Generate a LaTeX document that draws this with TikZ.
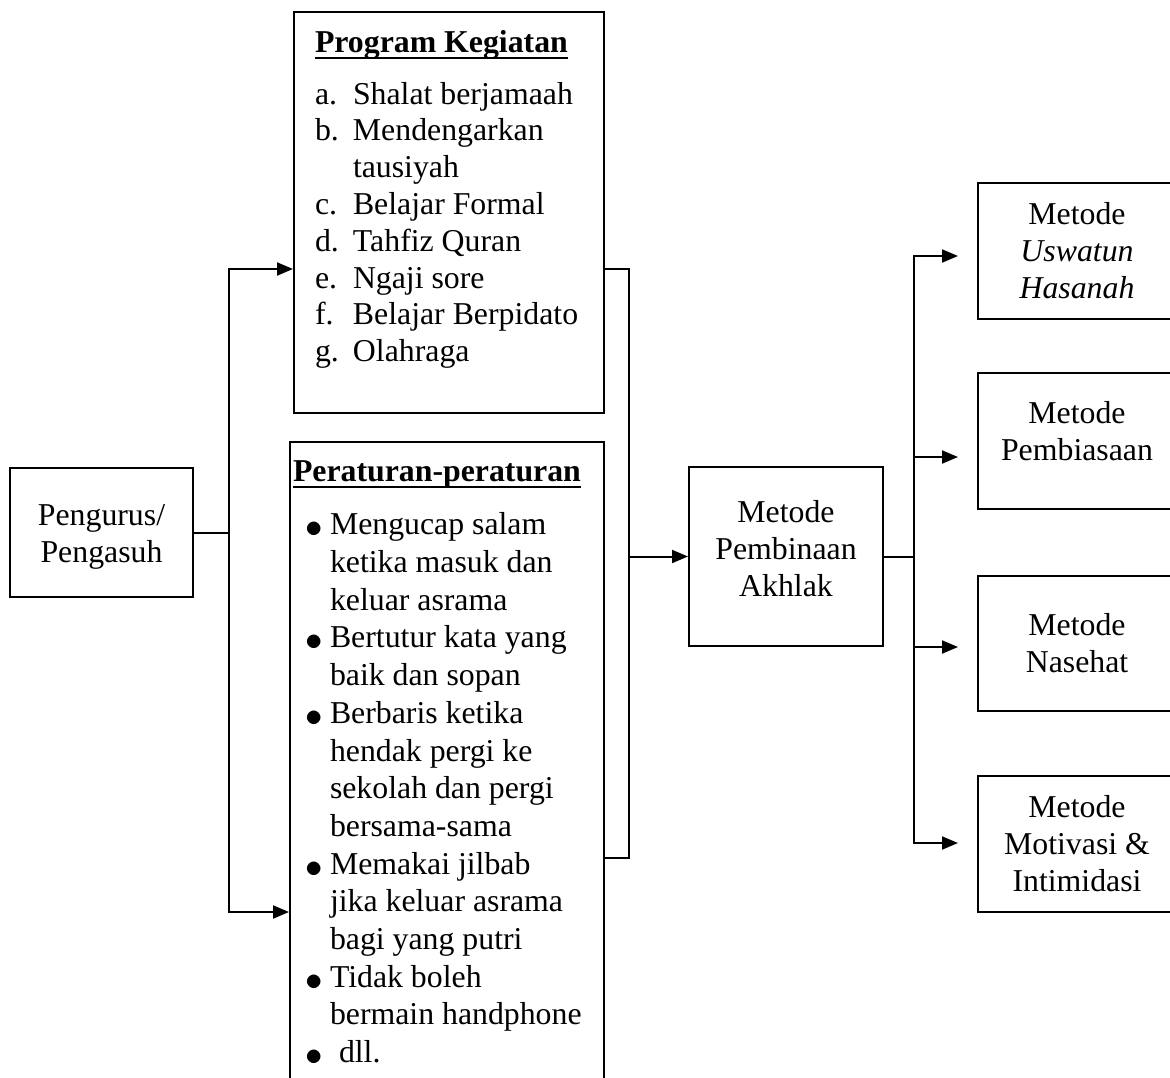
\documentclass[tikz,border=0pt]{standalone}
\usepackage{fontspec}
\setmainfont{Liberation Serif}
\usetikzlibrary{arrows.meta}
\newcommand{\garisbawah}[1]{\setbox0\hbox{#1}\rlap{\rule[-6.4pt]{\wd0}{2.4pt}}\box0}
\newcommand{\naik}[2]{\raisebox{#1}[\height][\depth]{\begin{tabular}{@{}c@{}}#2\end{tabular}}}
\newcommand{\titik}{\makebox[25pt][l]{\raisebox{-3pt}{\scalebox{1.4}{$\bullet$}}}}

\begin{document}
\begin{tikzpicture}[x=1pt,y=-1pt,line width=2pt,
                    font=\fontsize{31.8pt}{37pt}\selectfont,
                    main node/.style={draw,rectangle,inner sep=0pt,align=center},
                    list node/.style={inner sep=0pt,align=left,anchor=north west},
                    arr/.style={-{Triangle[length=16pt,width=13pt]}}]
\useasboundingbox (0,0) rectangle (1170,1077);

\node[main node,minimum width=183pt,minimum height=129pt] (1) at (101.5,532.5) {\naik{-4pt}{Pengurus/\\Pengasuh}};
\node[main node,anchor=north west,minimum width=310pt,minimum height=401pt] (2) at (293,11) {};
\node[main node,anchor=north west,minimum width=314pt,minimum height=680pt] (3) at (289,441) {};
\node[main node,minimum width=194pt,minimum height=179pt] (4) at (786,556.5) {\naik{4pt}{Metode\\Pembinaan\\Akhlak}};
\node[main node,minimum width=198pt,minimum height=136pt] (5) at (1077,251) {Metode\\\textit{Uswatun}\\\textit{Hasanah}};
\node[main node,minimum width=198pt,minimum height=136pt] (6) at (1077,441) {\naik{6.5pt}{Metode\\Pembiasaan}};
\node[main node,minimum width=198pt,minimum height=135pt] (7) at (1077,643.5) {Metode\\Nasehat};
\node[main node,minimum width=198pt,minimum height=136pt] (8) at (1077,844) {Metode\\Motivasi \&\\Intimidasi};

% isi kotak
\node[list node,font=\fontsize{31.8pt}{36.8pt}\selectfont] (2t) at (314,29.7)
  {\textbf{\garisbawah{Program Kegiatan}}\\[14.5pt]
   \makebox[38pt][l]{a.}Shalat berjamaah\\
   \makebox[38pt][l]{b.}Mendengarkan\\
   \hspace*{38pt}tausiyah\\
   \makebox[38pt][l]{c.}Belajar Formal\\
   \makebox[38pt][l]{d.}Tahfiz Quran\\
   \makebox[38pt][l]{e.}Ngaji sore\\
   \makebox[38pt][l]{f.}Belajar Berpidato\\
   \makebox[38pt][l]{g.}Olahraga};
\node[list node,font=\fontsize{31.8pt}{37.7pt}\selectfont] (3t) at (292,459.7)
  {\textbf{\garisbawah{Peraturan-peraturan}}\\[15.6pt]
   \hspace*{12pt}\titik Mengucap salam\\
   \hspace*{37pt}ketika masuk dan\\
   \hspace*{37pt}keluar asrama\\
   \hspace*{12pt}\titik Bertutur kata yang\\
   \hspace*{37pt}baik dan sopan\\
   \hspace*{12pt}\titik Berbaris ketika\\
   \hspace*{37pt}hendak pergi ke\\
   \hspace*{37pt}sekolah dan pergi\\
   \hspace*{37pt}bersama-sama\\
   \hspace*{12pt}\titik Memakai jilbab\\
   \hspace*{37pt}jika keluar asrama\\
   \hspace*{37pt}bagi yang putri\\
   \hspace*{12pt}\titik Tidak boleh\\
   \hspace*{37pt}bermain handphone\\
   \hspace*{12pt}\titik\hspace*{9pt}dll.};

% garis penghubung
\coordinate (c1) at (229,269);
\coordinate (c2) at (229,912);
\coordinate (c3) at (629,269);
\coordinate (c4) at (629,858);
\coordinate (c5) at (914,256);
\coordinate (c6) at (914,843);
\coordinate (c7) at (914,457);
\coordinate (c8) at (914,647);

\draw (1.east) -- (1.east -| c1);
\draw[arr] (c2) -- (c1) -- (2.west |- c1);
\draw[arr] (c1) -- (c2) -- (3.west |- c2);
\draw (2.east |- c3) -- (c3) -- (c4) -- (3.east |- c4);
\draw[arr] (c3 |- 4.west) -- (4.west);
\draw (4.east) -- (4.east -| c5);
\draw[arr,shorten >=19pt] (c6) -- (c5) -- (5.west |- c5);
\draw[arr,shorten >=19pt] (c5) -- (c6) -- (8.west |- c6);
\draw[arr,shorten >=19pt] (c7) -- (6.west |- c7);
\draw[arr,shorten >=19pt] (c8) -- (7.west |- c8);

\end{tikzpicture}
\end{document}
